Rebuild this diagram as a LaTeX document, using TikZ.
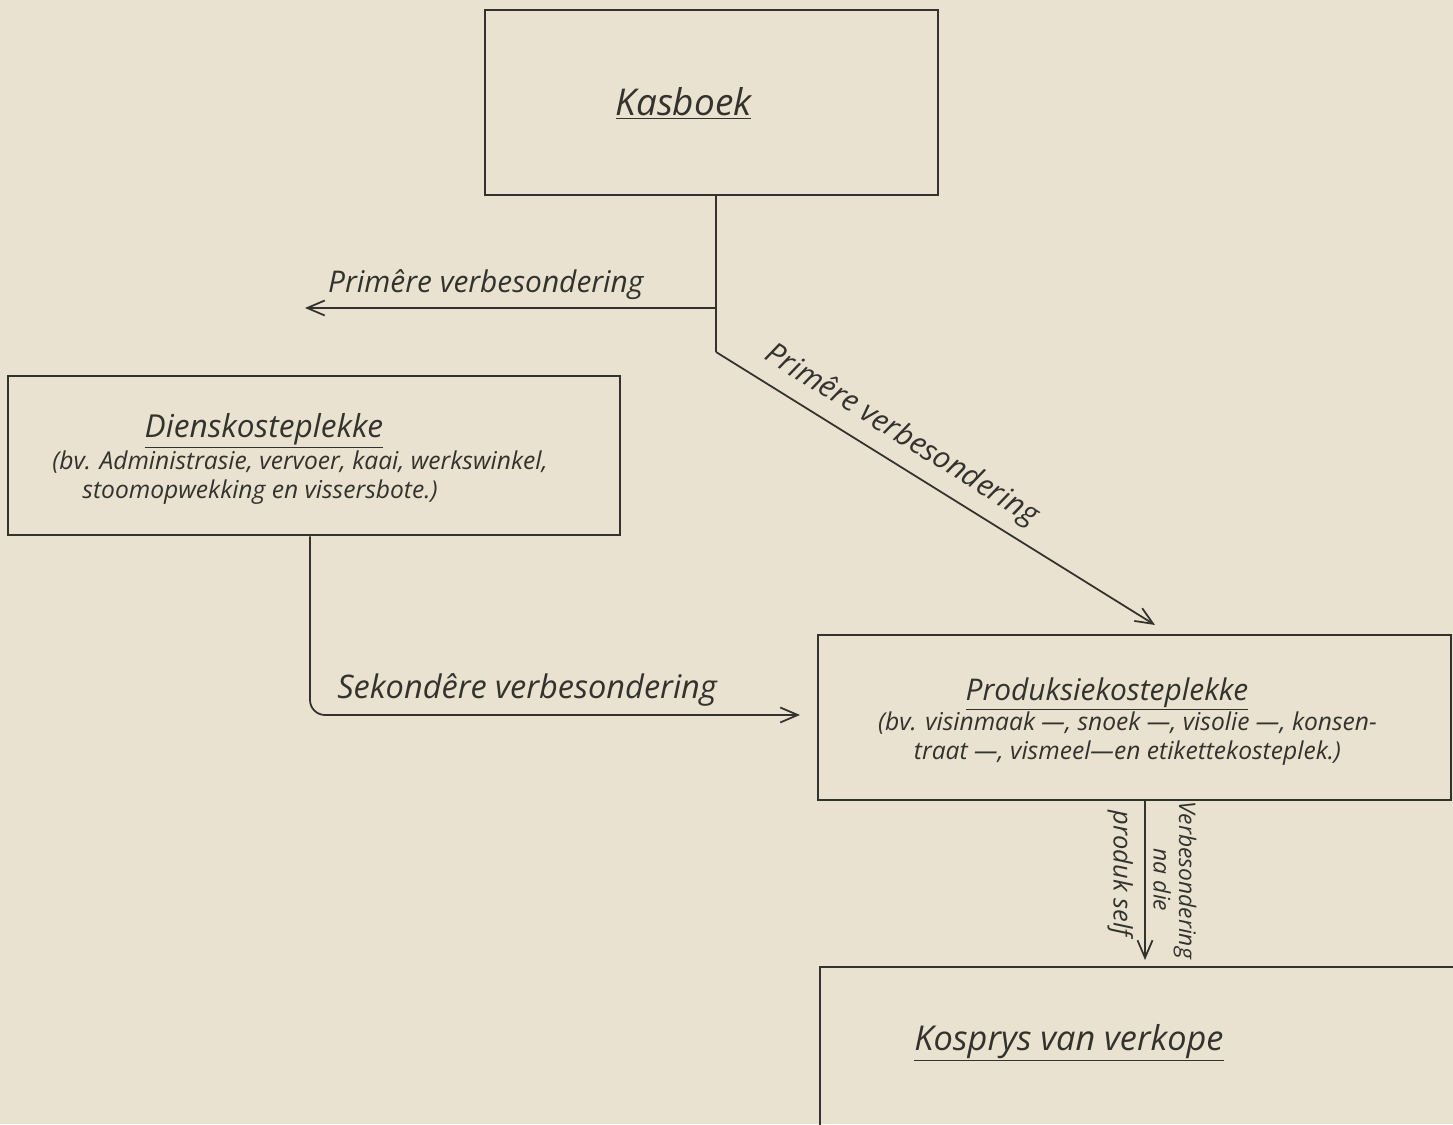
\documentclass[tikz,border=0pt]{standalone}
\usepackage{fontspec}
\setmainfont{Open Sans}
\usetikzlibrary{arrows.meta, positioning}
\definecolor{paper}{RGB}{233,226,209}
\definecolor{ink}{RGB}{52,50,45}

\tikzset{
  kbox/.style={draw=ink, line width=1.5pt, inner sep=0pt},
  link/.style={draw=ink, line width=1pt, -{Straight Barb[length=3.5mm,width=3mm]}},
  wire/.style={draw=ink, line width=1pt},
  head/.style={font=\itshape\fontsize{18}{22}\selectfont, text=ink, align=center},
  sub/.style={font=\itshape\fontsize{14}{16.5}\selectfont, text=ink},
  lbl/.style={font=\itshape\fontsize{17}{20}\selectfont, text=ink},
  vlbl/.style={font=\itshape\fontsize{13}{14.5}\selectfont, text=ink, align=center},
}

\begin{document}
\begin{tikzpicture}
  % page
  \useasboundingbox (0,0) rectangle (29.06,22.48);
  \fill[paper] (0,0) rectangle (29.06,22.48);

  % boxes
  \node[kbox, minimum width=9.06cm, minimum height=3.7cm] (kas) at (14.23,20.43) {};
  \node[kbox, minimum width=12.24cm, minimum height=3.18cm] (dienst) at (6.28,13.37) {};
  \node[kbox, minimum width=12.66cm, minimum height=3.3cm] (prod) at (22.69,8.13) {};
  \node[kbox, minimum width=13.4cm, minimum height=3.4cm] (kosprys) at (23.1,1.44) {};

  % box texts
  \node[head, font=\itshape\fontsize{21}{24}\selectfont] (kastxt) at (13.67,20.42) {\underline{Kasboek}};
  \node[head] (diensttxt) at (5.28,13.86) {\underline{Dienskosteplekke}};
  \node[sub, align=center] (dienstsub) at (6.0,12.93)
    {(bv. Administrasie, vervoer, kaai, werkswinkel,\\
     stoomopwekking en vissersbote.)\hspace*{1.6cm}};
  \node[head, font=\itshape\fontsize{17}{22}\selectfont] (prodtxt) at (22.14,8.6) {\underline{Produksiekosteplekke}};
  \node[sub, align=center] (prodsub) at (22.55,7.7)
    {(bv. visinmaak —, snoek —, visolie —, konsen-\\
     traat —, vismeel—en etikettekosteplek.)};
  \node[head, font=\itshape\fontsize{19.5}{22}\selectfont] (kosprystxt) at (21.38,1.62) {\underline{Kosprys van verkope}};

  % connector points
  \coordinate (split) at (14.32,16.32);
  \coordinate (bend) at (14.32,15.44);
  \coordinate (primtip) at (6.1,16.32);
  \coordinate (prodtip) at (23.1,9.98);
  \coordinate (seccorner) at (6.2,8.18);
  \coordinate (sectip) at (16.0,8.18);
  \coordinate (verbtop) at (22.9,6.48);
  \coordinate (verbtip) at (22.9,3.28);

  % primary allocation
  \draw[wire] (kas.south -| split) -- (bend);
  \draw[link] (split) -- (primtip)
    node[lbl, pos=0.56, above=1pt] (primlbl) {Primêre verbesondering};
  \draw[link] (bend) -- (prodtip)
    node[lbl, pos=0.39, above=3pt, sloped] (diaglbl) {Primêre verbesondering};

  % secondary allocation
  \draw[link, rounded corners=0.3cm] (dienst.south -| seccorner) -- (seccorner) -- (sectip)
    node[lbl, font=\itshape\fontsize{18.5}{21}\selectfont, pos=0.443, above=1pt] (seclbl) {Sekondêre verbesondering};

  % to cost of sales
  \draw[link] (verbtop) -- (verbtip)
    node[vlbl, midway, sloped, above=1pt] (verblbl) {Verbesondering\\na die}
    node[vlbl, font=\itshape\fontsize{14.5}{17}\selectfont, pos=0.46, sloped, below=3pt] (selflbl) {produk self};
\end{tikzpicture}
\end{document}
